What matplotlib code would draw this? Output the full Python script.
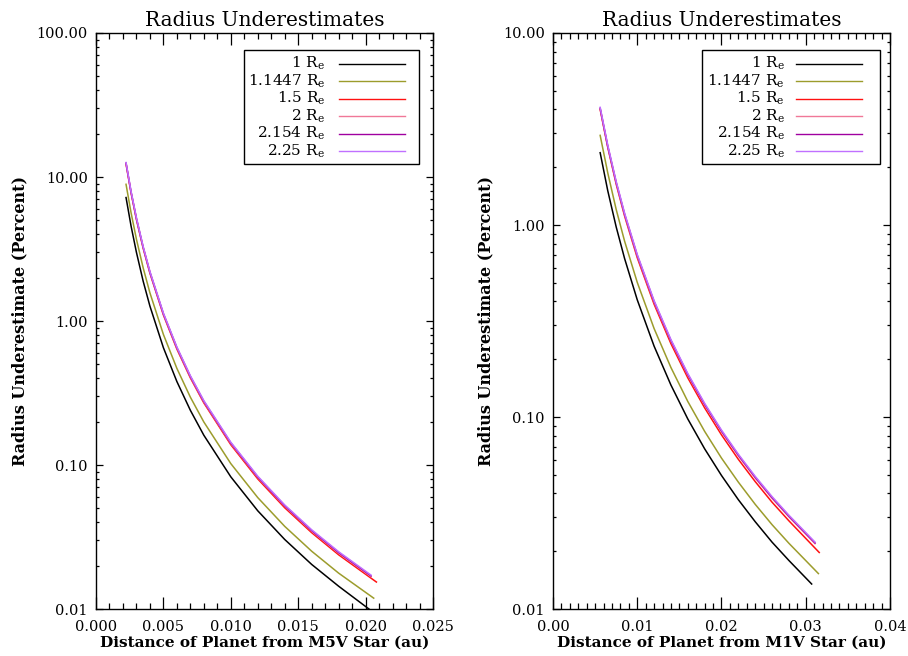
import matplotlib
matplotlib.use('Agg')
import matplotlib.pyplot as plt
from matplotlib.ticker import MultipleLocator, FormatStrFormatter, LogLocator, NullFormatter

plt.rcParams['font.family'] = ['DejaVu Serif']
plt.rcParams['mathtext.default'] = 'regular'

# legend / series info
labels = ['1 R$_e$', '1.1447 R$_e$', '1.5 R$_e$', '2 R$_e$', '2.154 R$_e$', '2.25 R$_e$']
colors = ['#000000', '#9c9c2c', '#ff1010', '#f07898', '#a000a0', '#c070ff']

# M5V panel (distance in au, underestimate in percent)
m5_x = [0.00223, 0.0026, 0.003, 0.0035, 0.004, 0.005, 0.006, 0.007,
        0.008, 0.010, 0.012, 0.014, 0.016, 0.018]
m5_xend = [0.0205, 0.0206, 0.0208, 0.0204, 0.0204, 0.0204]
m5_vals = [
    [7.2, 4.58, 3.00, 1.89, 1.27, 0.653, 0.380, 0.240, 0.161, 0.0828, 0.0481, 0.0304, 0.0204, 0.0144, 0.0096],
    [8.9, 5.66, 3.70, 2.34, 1.57, 0.807, 0.469, 0.296, 0.199, 0.1023, 0.0594, 0.0375, 0.0252, 0.01775, 0.0119],
    [12.3, 7.77, 5.07, 3.20, 2.15, 1.102, 0.639, 0.403, 0.270, 0.1384, 0.0801, 0.0505, 0.0339, 0.0238, 0.0154],
    [12.4, 7.83, 5.12, 3.23, 2.17, 1.115, 0.647, 0.409, 0.274, 0.141, 0.0819, 0.0517, 0.0347, 0.0244, 0.0168],
    [12.5, 7.90, 5.16, 3.26, 2.19, 1.125, 0.654, 0.413, 0.277, 0.1425, 0.0827, 0.0522, 0.0351, 0.0247, 0.0170],
    [12.6, 7.97, 5.21, 3.29, 2.21, 1.136, 0.660, 0.417, 0.280, 0.144, 0.0836, 0.0528, 0.0355, 0.0250, 0.0172],
]

# M1V panel
m1_x = [0.0056, 0.0065, 0.0075, 0.0085, 0.010, 0.012, 0.014, 0.016,
        0.018, 0.020, 0.022, 0.024, 0.026, 0.028]
m1_xend = [0.0307, 0.0315, 0.0316, 0.0311, 0.0311, 0.0311]
m1_vals = [
    [2.38, 1.51, 0.978, 0.669, 0.408, 0.234, 0.1467, 0.0977, 0.0683, 0.0496, 0.0371, 0.0285, 0.0223, 0.0179, 0.0135],
    [2.93, 1.87, 1.206, 0.824, 0.503, 0.289, 0.181, 0.1205, 0.0842, 0.0611, 0.0458, 0.0351, 0.0275, 0.0220, 0.0153],
    [4.0, 2.54, 1.635, 1.114, 0.676, 0.387, 0.241, 0.160, 0.1116, 0.0807, 0.0602, 0.0461, 0.0360, 0.0288, 0.0197],
    [4.02, 2.56, 1.653, 1.130, 0.689, 0.396, 0.248, 0.1651, 0.1154, 0.0838, 0.0627, 0.0481, 0.0377, 0.0302, 0.0219],
    [4.06, 2.58, 1.67, 1.141, 0.696, 0.400, 0.2505, 0.1668, 0.1166, 0.0846, 0.0634, 0.0486, 0.0381, 0.0305, 0.0221],
    [4.1, 2.61, 1.687, 1.153, 0.703, 0.404, 0.253, 0.1685, 0.1178, 0.0855, 0.0640, 0.0491, 0.0385, 0.0308, 0.0223],
]


def style_axis(ax, xmax, xmajor, xfmt, ymin, ymax):
    ax.set_yscale('log')
    ax.set_xlim(0, xmax)
    ax.set_ylim(ymin, ymax)
    ax.xaxis.set_major_locator(MultipleLocator(xmajor))
    ax.xaxis.set_minor_locator(MultipleLocator(0.001))
    ax.xaxis.set_major_formatter(FormatStrFormatter(xfmt))
    ax.yaxis.set_major_locator(LogLocator(base=10))
    ax.yaxis.set_minor_locator(LogLocator(base=10, subs=range(2, 10)))
    ax.yaxis.set_major_formatter(FormatStrFormatter('%.2f'))
    ax.yaxis.set_minor_formatter(NullFormatter())
    ax.tick_params(which='both', direction='in', top=True, right=True,
                   labelsize=10.5, width=0.9)
    # IDL-like tick lengths: x ticks scale with plot height, y ticks with width
    ax.tick_params(axis='x', which='major', length=8.3, pad=8)
    ax.tick_params(axis='x', which='minor', length=4.2)
    ax.tick_params(axis='y', which='major', length=4.8, pad=6)
    ax.tick_params(axis='y', which='minor', length=2.4)
    for sp in ax.spines.values():
        sp.set_linewidth(1.0)


def draw_legend(ax, x0, x1, tx, l0, l1):
    ax.add_patch(plt.Rectangle((x0, 0.773), x1 - x0, 0.197, transform=ax.transAxes,
                               fill=False, edgecolor='black', linewidth=1.0, zorder=5))
    for i, (lab, c) in enumerate(zip(labels, colors)):
        y = 0.947 - i * 0.0304
        ax.text(tx, y, lab, transform=ax.transAxes, ha='right', va='center',
                fontsize=11, zorder=6)
        ax.plot([l0, l1], [y, y], transform=ax.transAxes, color=c, lw=1.0, zorder=6)


fig = plt.figure(figsize=(9.08, 6.56), dpi=100)
axL = fig.add_axes([0.1057, 0.0716, 0.3712, 0.8781])
axR = fig.add_axes([0.6090, 0.0716, 0.3712, 0.8781])

for vals, xe, c in zip(m5_vals, m5_xend, colors):
    axL.plot(m5_x + [xe], vals, color=c, lw=1.1)
for vals, xe, c in zip(m1_vals, m1_xend, colors):
    axR.plot(m1_x + [xe], vals, color=c, lw=1.1)

style_axis(axL, 0.025, 0.005, '%.3f', 0.01, 100)
style_axis(axR, 0.04, 0.01, '%.2f', 0.01, 10)

draw_legend(axL, 0.439, 0.958, 0.680, 0.721, 0.917)
draw_legend(axR, 0.441, 0.970, 0.688, 0.721, 0.917)

for ax, star in [(axL, 'M5V'), (axR, 'M1V')]:
    ax.set_title('Radius Underestimates', fontsize=14.5, pad=5)
    ax.set_xlabel(f'Distance of Planet from {star} Star (au)', fontsize=11,
                  fontweight='bold', labelpad=1)
    ax.set_ylabel('Radius Underestimate (Percent)', fontsize=11.5,
                  fontweight='bold', labelpad=6)

fig.savefig('out.png', dpi=100, facecolor='white')
